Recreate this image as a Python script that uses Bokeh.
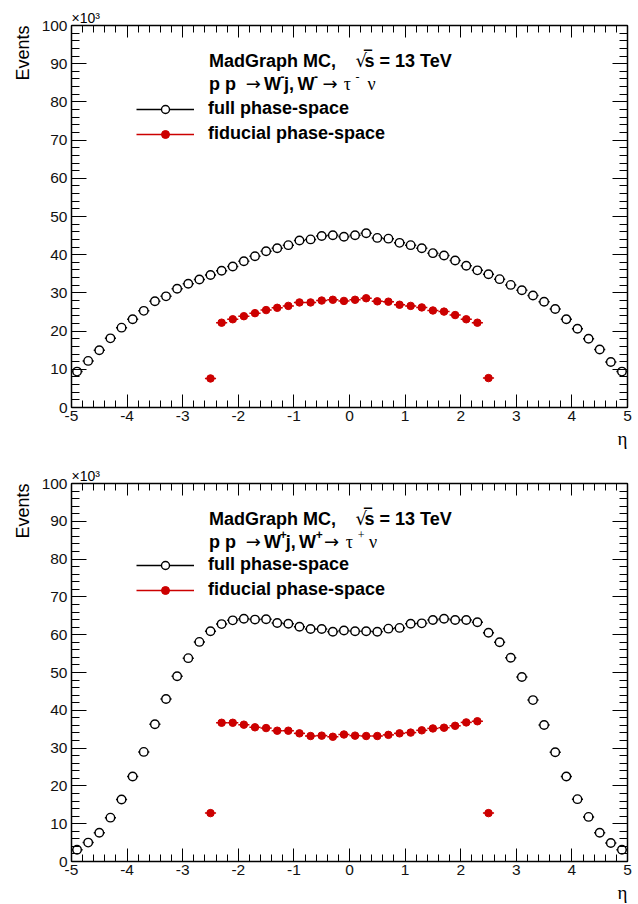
import numpy as np
from bokeh.plotting import figure
from bokeh.models import (FixedTicker, LinearAxis, Label, Legend, LegendItem, Range1d,
                          ColumnDataSource, Title, CustomLabelingPolicy)
from bokeh.layouts import column
from bokeh.embed import file_html
from bokeh.resources import INLINE

# bin centres (eta)
eta_all = [-4.9, -4.7, -4.5, -4.3, -4.1, -3.9, -3.7, -3.5, -3.3, -3.1,
           -2.9, -2.7, -2.5, -2.3, -2.1, -1.9, -1.7, -1.5, -1.3, -1.1,
           -0.9, -0.7, -0.5, -0.3, -0.1, 0.1, 0.3, 0.5, 0.7, 0.9,
           1.1, 1.3, 1.5, 1.7, 1.9, 2.1, 2.3, 2.5, 2.7, 2.9,
           3.1, 3.3, 3.5, 3.7, 3.9, 4.1, 4.3, 4.5, 4.7, 4.9]
eta_fid = [-2.5, -2.3, -2.1, -1.9, -1.7, -1.5, -1.3, -1.1, -0.9, -0.7,
           -0.5, -0.3, -0.1, 0.1, 0.3, 0.5, 0.7, 0.9, 1.1, 1.3,
           1.5, 1.7, 1.9, 2.1, 2.3, 2.5]
bin_half_width = 0.1

# events (x10^3), W- panel
wminus_full = [9.4, 12.2, 15.0, 18.1, 20.9, 23.1, 25.3, 27.8, 29.1, 31.1,
               32.4, 33.5, 34.7, 35.8, 36.9, 38.3, 39.6, 40.9, 41.7, 42.5,
               43.7, 44.0, 44.9, 45.1, 44.7, 45.1, 45.6, 44.4, 44.2, 43.1,
               42.5, 41.7, 40.4, 39.8, 38.5, 37.1, 35.9, 34.9, 33.6, 32.1,
               30.7, 29.3, 27.7, 25.8, 23.1, 20.6, 18.0, 15.2, 11.9, 9.4]
wminus_fid = [7.6, 22.2, 23.1, 23.9, 24.7, 25.5, 26.1, 26.6, 27.5, 27.5,
              28.0, 28.2, 27.9, 28.2, 28.6, 27.8, 27.7, 26.9, 26.6, 26.2,
              25.4, 25.1, 24.2, 23.1, 22.2, 7.7]

# events (x10^3), W+ panel
wplus_full = [3.1, 5.0, 7.6, 11.6, 16.4, 22.5, 29.0, 36.3, 43.0, 49.0,
              53.8, 58.1, 60.9, 62.8, 63.8, 64.2, 64.0, 64.1, 63.1, 62.9,
              62.1, 61.5, 61.5, 60.8, 61.1, 60.9, 60.9, 60.8, 61.6, 61.8,
              62.9, 63.0, 63.9, 64.2, 63.9, 63.9, 63.3, 60.5, 58.0, 53.9,
              48.8, 42.7, 36.1, 28.9, 22.5, 16.5, 11.8, 7.6, 4.9, 3.1]
wplus_fid = [12.8, 36.7, 36.7, 36.2, 35.5, 35.3, 34.6, 34.6, 33.9, 33.2,
             33.3, 33.0, 33.6, 33.3, 33.2, 33.2, 33.5, 33.9, 34.1, 34.7,
             35.2, 35.4, 35.9, 36.8, 37.1, 12.8]

x_ticks = [-5, -4, -3, -2, -1, 0, 1, 2, 3, 4, 5]
y_ticks = [0, 10, 20, 30, 40, 50, 60, 70, 80, 90, 100]

RED = "#cc0000"
SANS = "Liberation Sans"
SERIF = "Liberation Serif"
ARROW_FONT = "DejaVu Sans"

NO_LABELS = "for (const i of indices) { indices.unset(i) }\nreturn indices"


def x_ticker():
    return FixedTicker(ticks=x_ticks, minor_ticks=[round(-5 + 0.2 * i, 1) for i in range(51)])


def y_ticker():
    return FixedTicker(ticks=y_ticks, minor_ticks=[2 * i for i in range(51)])


def style_axis(ax, major_in, minor_in, labels, ticker, overrides):
    ax.ticker = ticker
    ax.major_tick_in = major_in
    ax.major_tick_out = 0
    ax.minor_tick_in = minor_in
    ax.minor_tick_out = 0
    ax.axis_line_color = "black"
    ax.axis_line_width = 1.5
    ax.major_tick_line_color = "black"
    ax.major_tick_line_width = 1
    ax.minor_tick_line_color = "black"
    ax.minor_tick_line_width = 1
    ax.major_label_text_font = SANS
    ax.major_label_text_color = "#111111"
    if labels:
        ax.major_label_text_font_size = "15.5px"
        ax.major_label_overrides = overrides
    else:
        ax.major_label_text_font_size = "0px"
        ax.major_label_policy = CustomLabelingPolicy(code=NO_LABELS)
        ax.major_label_standoff = 0


def add_text(p, text, xo, yo, size="18px", font=SANS, style="bold", align="left",
             baseline="alphabetic", x=-5, y=100):
    p.add_layout(Label(x=x, y=y, x_offset=xo, y_offset=yo, text=text, text_font=font,
                       text_font_size=size, text_font_style=style, text_align=align,
                       text_baseline=baseline, text_color="black"))


def make_panel(full, fid, sign, border_top, border_bottom, sup_x):
    height = 452
    p = figure(width=638, height=height, output_backend="svg", toolbar_location=None,
               x_range=Range1d(-5, 5), y_range=Range1d(0, 100),
               min_border_left=71, min_border_right=11, min_border_top=border_top,
               min_border_bottom=border_bottom, outline_line_color=None,
               background_fill_color="white", border_fill_color="white")
    p.xgrid.visible = False
    p.ygrid.visible = False
    frame_h = height - border_top - border_bottom

    style_axis(p.xaxis[0], 13, 7, True, x_ticker(), {t: str(t) for t in x_ticks})
    p.xaxis[0].major_label_standoff = 3
    style_axis(p.yaxis[0], 15, 8, True, y_ticker(), {t: str(t) for t in y_ticks})
    p.yaxis[0].major_label_standoff = 4

    top = LinearAxis()
    style_axis(top, 12, 7, False, x_ticker(), {})
    p.add_layout(top, "above")
    right = LinearAxis()
    style_axis(right, 15, 8, False, y_ticker(), {})
    p.add_layout(right, "right")

    # axis titles (ROOT style: at the ends of the axes)
    p.add_layout(Title(text="Events", align="right", text_font=SANS, text_font_size="18px",
                       text_font_style="normal", text_color="black", standoff=12), "left")
    p.add_layout(Title(text="\u03b7", align="right", text_font=SERIF, text_font_size="19px",
                       text_font_style="normal", text_color="black", standoff=4), "below")
    p.add_layout(Title(text="\u00d710\u00b3", align="left", text_font=SANS, text_font_size="14px",
                       text_font_style="normal", text_color="black", standoff=0), "above")

    src_full = ColumnDataSource(dict(x=eta_all, y=full,
                                     x0=[e - bin_half_width for e in eta_all],
                                     x1=[e + bin_half_width for e in eta_all]))
    src_fid = ColumnDataSource(dict(x=eta_fid, y=fid,
                                    x0=[e - bin_half_width for e in eta_fid],
                                    x1=[e + bin_half_width for e in eta_fid]))

    seg_f = p.segment(x0="x0", y0="y", x1="x1", y1="y", source=src_full,
                      line_color="black", line_width=1.5)
    sc_f = p.scatter(x="x", y="y", source=src_full, marker="circle", size=8.5,
                     fill_color="white", line_color="black", line_width=1.4)
    seg_d = p.segment(x0="x0", y0="y", x1="x1", y1="y", source=src_fid,
                      line_color=RED, line_width=1.5)
    sc_d = p.scatter(x="x", y="y", source=src_fid, marker="circle", size=7.5,
                     fill_color=RED, line_color=RED, line_width=1)

    legend = Legend(items=[LegendItem(label="full phase-space", renderers=[seg_f, sc_f]),
                           LegendItem(label="fiducial phase-space", renderers=[seg_d, sc_d])],
                    location=(65, frame_h - 119), orientation="vertical",
                    glyph_width=58, glyph_height=20, label_height=20, spacing=4,
                    label_standoff=14, padding=0, margin=0,
                    label_text_font=SANS, label_text_font_size="18px",
                    label_text_font_style="bold", label_text_color="black",
                    background_fill_alpha=0, border_line_alpha=0)
    p.add_layout(legend)

    # header text, line 1
    y1, y2 = -35, -58
    add_text(p, "MadGraph MC,", 137.6, y1)
    add_text(p, "\u221a", 284.0, y1, font=ARROW_FONT, style="normal")
    add_text(p, "s = 13 TeV", 293.0, y1)
    add_text(p, "\u203e", 293.5, y1 + 3, style="bold")
    # header text, line 2
    sx1, jx, wx2, sx2, ax2, tx, sx3, nx = sup_x
    add_text(p, "p p", 137.6, y2)
    add_text(p, "\u2192", 174.3, y2, font=ARROW_FONT, style="normal")
    add_text(p, "W", 192.6, y2)
    add_text(p, sign, sx1, y2 + 7, size="12px")
    add_text(p, "j,", jx, y2)
    add_text(p, "W", wx2, y2)
    add_text(p, sign, sx2, y2 + 7, size="12px")
    add_text(p, "\u2192", ax2, y2, font=ARROW_FONT, style="normal")
    add_text(p, "\u03c4", tx, y2, font=SERIF, style="normal")
    add_text(p, sign, sx3, y2 + 7, size="12px", font=SERIF, style="normal")
    add_text(p, "\u03bd", nx, y2, font=SERIF, style="normal")
    return p


p1 = make_panel(wminus_full, wminus_fid, "-", 25, 45,
                (209.0, 212.6, 226.0, 242.6, 251.0, 272.3, 284.0, 296.0))
p2 = make_panel(wplus_full, wplus_fid, "+", 31, 41,
                (208.3, 214.3, 227.6, 244.3, 252.6, 274.3, 286.3, 297.6))

layout = column(p1, p2, spacing=0)
open("out.html", "w").write(file_html(layout, INLINE))
